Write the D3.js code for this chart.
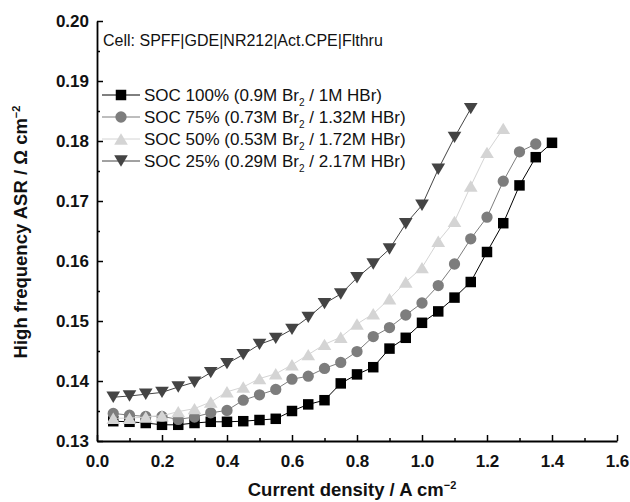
<!DOCTYPE html>
<html>
<head>
<meta charset="utf-8">
<script src="https://cdn.jsdelivr.net/npm/d3@7"></script>
<style>
  body { margin: 0; background: #fff; }
  svg { font-family: 'Liberation Sans', Arial, sans-serif; }
</style>
</head>
<body>
<svg width="630" height="502"></svg>
<script>
// current density, A cm-2
const currentDensity = [0.05, 0.10, 0.15, 0.20, 0.25, 0.30, 0.35, 0.40, 0.45, 0.50,
  0.55, 0.60, 0.65, 0.70, 0.75, 0.80, 0.85, 0.90, 0.95, 1.00,
  1.05, 1.10, 1.15, 1.20, 1.25, 1.30, 1.35, 1.40];

// high frequency ASR, ohm cm2
const asrSoc100 = [0.1333, 0.1332, 0.1330, 0.1327, 0.1327, 0.1330, 0.1332, 0.1332, 0.1333, 0.1335,
  0.1337, 0.1350, 0.1361, 0.1368, 0.1396, 0.1411, 0.1423, 0.1454, 0.1472, 0.1497,
  0.1516, 0.1539, 0.1565, 0.1615, 0.1663, 0.1726, 0.1773, 0.1797];
const asrSoc75 = [0.1346, 0.1343, 0.1341, 0.1341, 0.1336, 0.1340, 0.1347, 0.1351, 0.1368, 0.1377,
  0.1386, 0.1403, 0.1408, 0.1421, 0.1431, 0.1449, 0.1474, 0.1489, 0.1510, 0.1530,
  0.1559, 0.1595, 0.1637, 0.1673, 0.1733, 0.1782, 0.1795];
const asrSoc50 = [0.1338, 0.1338, 0.1340, 0.1342, 0.1349, 0.1354, 0.1365, 0.1382, 0.1390, 0.1404,
  0.1412, 0.1427, 0.1444, 0.1461, 0.1473, 0.1495, 0.1512, 0.1537, 0.1565, 0.1589,
  0.1633, 0.1666, 0.1725, 0.1781, 0.1821];
const asrSoc25 = [0.1373, 0.1375, 0.1378, 0.1381, 0.1390, 0.1398, 0.1414, 0.1429, 0.1444, 0.1461,
  0.1471, 0.1486, 0.1506, 0.1529, 0.1545, 0.1572, 0.1595, 0.1620, 0.1662, 0.1693,
  0.1753, 0.1806, 0.1854];

const seriesLabels = [
  ['SOC 100% (0.9M Br', '2', ' / 1M HBr)'],
  ['SOC 75% (0.73M Br', '2', ' / 1.32M HBr)'],
  ['SOC 50% (0.53M Br', '2', ' / 1.72M HBr)'],
  ['SOC 25% (0.29M Br', '2', ' / 2.17M HBr)']
];
const seriesColors = ['#000000', '#7d7d7d', '#d4d4d4', '#444444'];

const svg = d3.select('svg');

const x = d3.scaleLinear().domain([0, 1.6]).range([97, 617]);
const y = d3.scaleLinear().domain([0.13, 0.20]).range([441, 21]);

// triangles centred on their bounding box, like the origin markers
const triUp = {
  draw(ctx, size) {
    const w = Math.sqrt(size) * 0.72, h = Math.sqrt(size) * 0.6;
    ctx.moveTo(0, -h); ctx.lineTo(w, h); ctx.lineTo(-w, h); ctx.closePath();
  }
};
const triDown = {
  draw(ctx, size) {
    const w = Math.sqrt(size) * 0.72, h = Math.sqrt(size) * 0.6;
    ctx.moveTo(0, h); ctx.lineTo(w, -h); ctx.lineTo(-w, -h); ctx.closePath();
  }
};
const symbols = [
  d3.symbol().type(d3.symbolSquare).size(110),
  d3.symbol().type(d3.symbolCircle).size(100),
  d3.symbol().type(triUp).size(90),
  d3.symbol().type(triDown).size(90)
];

const series = [asrSoc100, asrSoc75, asrSoc50, asrSoc25].map((vals, i) => ({
  id: i,
  points: vals.map((v, j) => ({ x: currentDensity[j], y: v }))
}));

// axes
const styleAxis = (g, fs) => {
  g.select('.domain').attr('stroke', '#000').attr('stroke-width', 1.8);
  g.selectAll('.tick line').attr('stroke', '#000').attr('stroke-width', 1.5);
  g.selectAll('.tick text')
    .attr('fill', '#111')
    .style('font-size', fs)
    .style('font-weight', 'bold');
};

const xMajor = x.ticks(8);
const xMinor = x.ticks(16).filter(t => !xMajor.some(m => Math.abs(m - t) < 1e-9));
const yMajor = y.ticks(7);
const yMinor = y.ticks(14).filter(t => !yMajor.some(m => Math.abs(m - t) < 1e-9));

svg.append('g')
  .attr('transform', 'translate(0,441)')
  .call(d3.axisBottom(x).tickValues(xMinor).tickSize(-3).tickSizeOuter(0).tickFormat(''))
  .call(g => g.select('.domain').remove())
  .call(g => g.selectAll('.tick line').attr('stroke', '#000').attr('stroke-width', 1.5));

svg.append('g')
  .attr('transform', 'translate(97,0)')
  .call(d3.axisLeft(y).tickValues(yMinor).tickSize(-3).tickSizeOuter(0).tickFormat(''))
  .call(g => g.select('.domain').remove())
  .call(g => g.selectAll('.tick line').attr('stroke', '#000').attr('stroke-width', 1.5));

svg.append('g')
  .attr('transform', 'translate(0,441)')
  .call(d3.axisBottom(x).tickValues(xMajor).tickSize(-6).tickSizeOuter(0)
    .tickPadding(14).tickFormat(d3.format('.1f')))
  .call(g => styleAxis(g, '17px'));

svg.append('g')
  .attr('transform', 'translate(97,0)')
  .call(d3.axisLeft(y).tickValues(yMajor).tickSize(-6).tickSizeOuter(0)
    .tickPadding(8).tickFormat(d3.format('.2f')))
  .call(g => styleAxis(g, '17px'));

// series: line first, markers on top
const line = d3.line().x(d => x(d.x)).y(d => y(d.y));

const groups = svg.selectAll('g.series')
  .data(series)
  .enter()
  .append('g')
    .attr('class', 'series');

groups.append('path')
  .attr('d', d => line(d.points))
  .attr('fill', 'none')
  .attr('stroke', d => seriesColors[d.id])
  .attr('stroke-width', 1);

groups.each(function (s) {
  d3.select(this).selectAll('path.pt')
    .data(s.points)
    .enter()
    .append('path')
      .attr('class', 'pt')
      .attr('transform', d => `translate(${x(d.x)},${y(d.y)})`)
      .attr('d', symbols[s.id]())
      .attr('fill', seriesColors[s.id]);
});

// cell note
svg.append('text')
  .attr('x', 103)
  .attr('y', 46)
  .style('font-size', '16px')
  .attr('fill', '#111')
  .text('Cell: SPFF|GDE|NR212|Act.CPE|Flthru');

// legend
const legend = svg.append('g')
  .selectAll('g')
  .data(seriesLabels)
  .enter()
  .append('g')
    .attr('transform', (d, i) => `translate(0,${95 + i * 22})`);

legend.append('line')
  .attr('x1', 102).attr('x2', 140)
  .attr('stroke', (d, i) => seriesColors[i])
  .attr('stroke-width', 1);

legend.append('path')
  .attr('transform', 'translate(121,0)')
  .attr('d', (d, i) => symbols[i]())
  .attr('fill', (d, i) => seriesColors[i]);

const legendText = legend.append('text')
  .attr('x', 144)
  .attr('y', 6)
  .attr('fill', '#111')
  .style('font-size', '17px');
legendText.append('tspan').text(d => d[0]);
legendText.append('tspan').attr('dy', 5).style('font-size', '10px').text(d => d[1]);
legendText.append('tspan').attr('dy', -5).text(d => d[2]);

// axis titles
const xTitle = svg.append('text')
  .attr('x', 352)
  .attr('y', 496)
  .attr('text-anchor', 'middle')
  .attr('fill', '#111')
  .style('font-size', '18.5px')
  .style('font-weight', 'bold');
xTitle.append('tspan').text('Current density / A cm');
xTitle.append('tspan').attr('dy', -7).style('font-size', '11px').text('\u22122');

const yTitle = svg.append('text')
  .attr('transform', 'translate(27,232) rotate(-90)')
  .attr('text-anchor', 'middle')
  .attr('fill', '#111')
  .style('font-size', '18.5px')
  .style('font-weight', 'bold');
yTitle.append('tspan').text('High frequency ASR / \u03a9 cm');
yTitle.append('tspan').attr('dy', -7).style('font-size', '11px').text('\u22122');
</script>
</body>
</html>
